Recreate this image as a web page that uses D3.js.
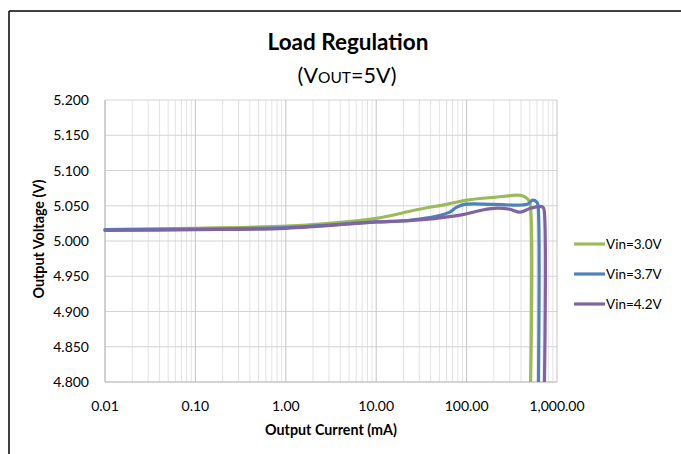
<!DOCTYPE html>
<html><head><meta charset="utf-8">
<script src="https://cdn.jsdelivr.net/npm/d3@7"></script>
<style>
html,body{margin:0;padding:0;background:#fff;}
svg{display:block;font-family:Lato,"Open Sans",sans-serif;}
</style></head>
<body><svg id="c" width="681" height="454"></svg>
<script>
// ---- data ----
const seriesNames = ["Vin=3.0V", "Vin=3.7V", "Vin=4.2V"];
const seriesColors = ["#9BBB59", "#4F81BD", "#8064A2"];
const current30 = [0.01, 0.1, 1, 3, 10, 30, 60, 100, 200, 360, 420, 480, 503, 503];
const vout30    = [5.016, 5.018, 5.021, 5.025, 5.032, 5.045, 5.052, 5.058, 5.062, 5.065, 5.064, 5.059, 5.053, 4.75];
const current37 = [0.01, 0.1, 1, 10, 18, 30, 50, 65, 78, 95, 200, 466, 540, 600, 617, 617];
const vout37    = [5.016, 5.017, 5.019, 5.027, 5.028, 5.031, 5.036, 5.041, 5.048, 5.052, 5.052, 5.052, 5.058, 5.055, 5.05, 4.75];
const current42 = [0.01, 0.1, 1, 10, 30, 91, 150, 217, 300, 390, 500, 649, 700, 718, 718];
const vout42    = [5.015, 5.016, 5.018, 5.027, 5.030, 5.0375, 5.044, 5.0465, 5.045, 5.041, 5.046, 5.049, 5.048, 5.045, 4.75];
const xTicks = [0.01, 0.1, 1, 10, 100, 1000];
const xTickLabels = ["0.01", "0.10", "1.00", "10.00", "100.00", "1,000.00"];
const yTicks = [4.8, 4.85, 4.9, 4.95, 5.0, 5.05, 5.1, 5.15, 5.2];

const series = [
  {name: seriesNames[0], color: seriesColors[0], x: current30, y: vout30},
  {name: seriesNames[1], color: seriesColors[1], x: current37, y: vout37},
  {name: seriesNames[2], color: seriesColors[2], x: current42, y: vout42}
];

const svg = d3.select("#c");
const L = 105, R = 557, T = 100, B = 382;
const x = d3.scaleLog().domain([0.01, 1000]).range([L, R]);
const y = d3.scaleLinear().domain([4.8, 5.2]).range([B, T]);

// outer border (partial, like source)
svg.append("line").attr("x1", 9).attr("x2", 9).attr("y1", 11).attr("y2", 454).attr("stroke", "#000").attr("stroke-width", 1.5);
svg.append("line").attr("x1", 9).attr("x2", 681).attr("y1", 11).attr("y2", 11).attr("stroke", "#000").attr("stroke-width", 1.5);

// titles
svg.append("text").attr("x", 348).attr("y", 50).attr("text-anchor", "middle")
  .attr("font-size", 22.5).attr("font-weight", "bold").attr("fill", "#000").text("Load Regulation");
const sub = svg.append("text").attr("x", 347).attr("y", 83).attr("text-anchor", "middle")
  .attr("font-size", 21.5).attr("fill", "#000");
sub.append("tspan").text("(V");
sub.append("tspan").attr("font-size", 15.5).text("OUT");
sub.append("tspan").text("=5V)");

// minor vertical gridlines
const minor = [];
for (let e = -2; e < 3; e++) for (let m = 2; m <= 9; m++) minor.push(m * Math.pow(10, e));
svg.append("g").selectAll("line").data(minor).join("line")
  .attr("x1", d => x(d)).attr("x2", d => x(d)).attr("y1", T).attr("y2", B)
  .attr("stroke", "#e3e3e3").attr("stroke-width", 1);
// horizontal gridlines
svg.append("g").selectAll("line").data(yTicks).join("line")
  .attr("x1", L).attr("x2", R).attr("y1", d => y(d)).attr("y2", d => y(d))
  .attr("stroke", "#d4d4d4").attr("stroke-width", 1);
// major vertical gridlines
svg.append("g").selectAll("line").data(xTicks).join("line")
  .attr("x1", d => x(d)).attr("x2", d => x(d)).attr("y1", T).attr("y2", B)
  .attr("stroke", "#c4c4c4").attr("stroke-width", 1);
// axes lines
svg.append("line").attr("x1", L).attr("x2", L).attr("y1", T).attr("y2", B).attr("stroke", "#bfbfbf");
svg.append("line").attr("x1", L).attr("x2", R).attr("y1", B).attr("y2", B).attr("stroke", "#bfbfbf");

// tick labels
svg.append("g").selectAll("text").data(yTicks).join("text")
  .attr("x", 89).attr("y", d => y(d) + 5).attr("text-anchor", "end")
  .attr("font-size", 14).attr("fill", "#000").text(d => d3.format(".3f")(d));
svg.append("g").selectAll("text").data(xTicks).join("text")
  .attr("x", d => x(d)).attr("y", 411).attr("text-anchor", "middle")
  .attr("font-size", 14).attr("fill", "#000").text((d, i) => xTickLabels[i]);

// axis titles
svg.append("text").attr("x", 331).attr("y", 435).attr("text-anchor", "middle")
  .attr("font-size", 14.3).attr("font-weight", "bold").attr("fill", "#000").text("Output Current (mA)");
svg.append("text").attr("transform", "translate(44,239) rotate(-90)").attr("text-anchor", "middle")
  .attr("font-size", 14.3).attr("font-weight", "bold").attr("fill", "#000").text("Output Voltage (V)");

// clip
svg.append("defs").append("clipPath").attr("id", "pc").append("rect")
  .attr("x", L - 5).attr("y", T - 5).attr("width", R - L + 10).attr("height", B - T + 5);

const line = d3.line().x(d => x(d[0])).y(d => y(d[1])).curve(d3.curveCatmullRom.alpha(0.5));
const g = svg.append("g").attr("clip-path", "url(#pc)");
series.forEach(s => {
  g.append("path").datum(s.x.map((v, i) => [v, s.y[i]]))
    .attr("d", line).attr("fill", "none").attr("stroke", s.color)
    .attr("stroke-width", 3.2).attr("stroke-linejoin", "round").attr("stroke-linecap", "round");
});

// legend
const lg = svg.append("g");
series.forEach((s, i) => {
  const ly = 244 + i * 30;
  lg.append("line").attr("x1", 574).attr("x2", 605).attr("y1", ly).attr("y2", ly)
    .attr("stroke", s.color).attr("stroke-width", 3.2);
  lg.append("text").attr("x", 606).attr("y", ly + 5).attr("font-size", 13.5).attr("fill", "#000").text(s.name);
});
</script></body></html>
